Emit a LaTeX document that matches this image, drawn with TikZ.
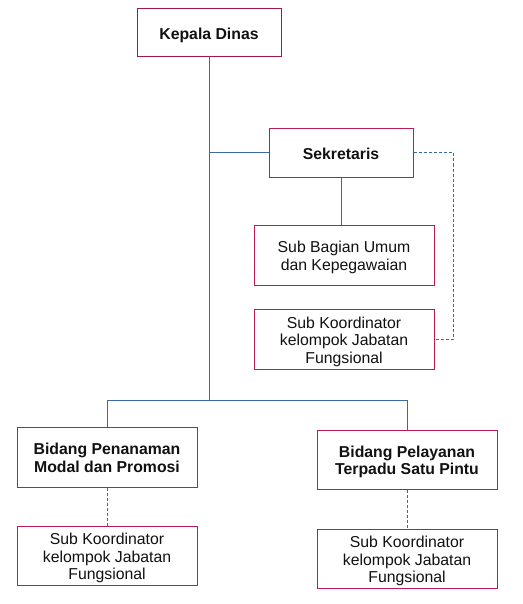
\documentclass[tikz,border=0pt]{standalone}
\usepackage{fontspec}
\setmainfont{Liberation Sans}
\definecolor{boxred}{HTML}{BE1A4E}
\definecolor{boxdark}{HTML}{A01845}
\definecolor{linkblue}{HTML}{3D6AA6}
\definecolor{txt}{HTML}{111111}
\begin{document}
\begin{tikzpicture}[x=1pt,y=-1pt,
  box/.style={draw=boxred,line width=1pt,fill=white,minimum width=180pt,minimum height=60pt,inner sep=0pt,align=center,text=txt,font=\fontsize{15.8}{17.6}\selectfont},
  headbox/.style={box,font=\fontsize{15.8}{17.7}\selectfont\bfseries},
  oneline/.style={text height=16pt,text depth=2.7pt},
  twolines/.style={text height=33.6pt,text depth=2.7pt},
  threelines/.style={text height=51.2pt,text depth=2.7pt},
  link/.style={draw=linkblue,line width=1pt},
  dlink/.style={link,dashed,dash pattern=on 3pt off 2pt}]
\useasboundingbox (0,0) rectangle (522,604);
\node[headbox,oneline,draw=boxdark,minimum width=144pt,minimum height=48pt] (kd) at (209,33) {Kepala Dinas};
\node[headbox,oneline,minimum width=144pt,minimum height=48pt] (sek) at (341,153) {Sekretaris};
\node[box,twolines] (sbu) at (344,255) {Sub Bagian Umum\\dan Kepegawaian};
\node[box,threelines] (skt) at (344,339) {Sub Koordinator\\kelompok Jabatan\\Fungsional};
\node[headbox,twolines] (bpm) at (107,457) {Bidang Penanaman\\Modal dan Promosi};
\node[headbox,twolines,minimum height=59pt] (bpt) at (407,459.5) {Bidang Pelayanan\\Terpadu Satu Pintu};
\node[box,threelines,minimum height=59pt] (skl) at (107,555.5) {Sub Koordinator\\kelompok Jabatan\\Fungsional};
\node[box,threelines,minimum height=59pt] (skr) at (407,558.5) {Sub Koordinator\\kelompok Jabatan\\Fungsional};
\coordinate (j) at (209,400);
\coordinate (js) at (209,153);
\coordinate (d) at (453,153);
\draw[link] (kd.south) -- (j);
\draw[link] (js) -- (sek.west);
\draw[link] (sek.south) -- (sek.south |- sbu.north);
\draw[link] (j) -| (bpm.north);
\draw[link] (j) -| (bpt.north);
\draw[dlink] (sek.east) -- (d) |- (skt.east);
\draw[dlink] (bpm.south) -- (skl.north);
\draw[dlink] (bpt.south) -- (skr.north);
\end{tikzpicture}
\end{document}
